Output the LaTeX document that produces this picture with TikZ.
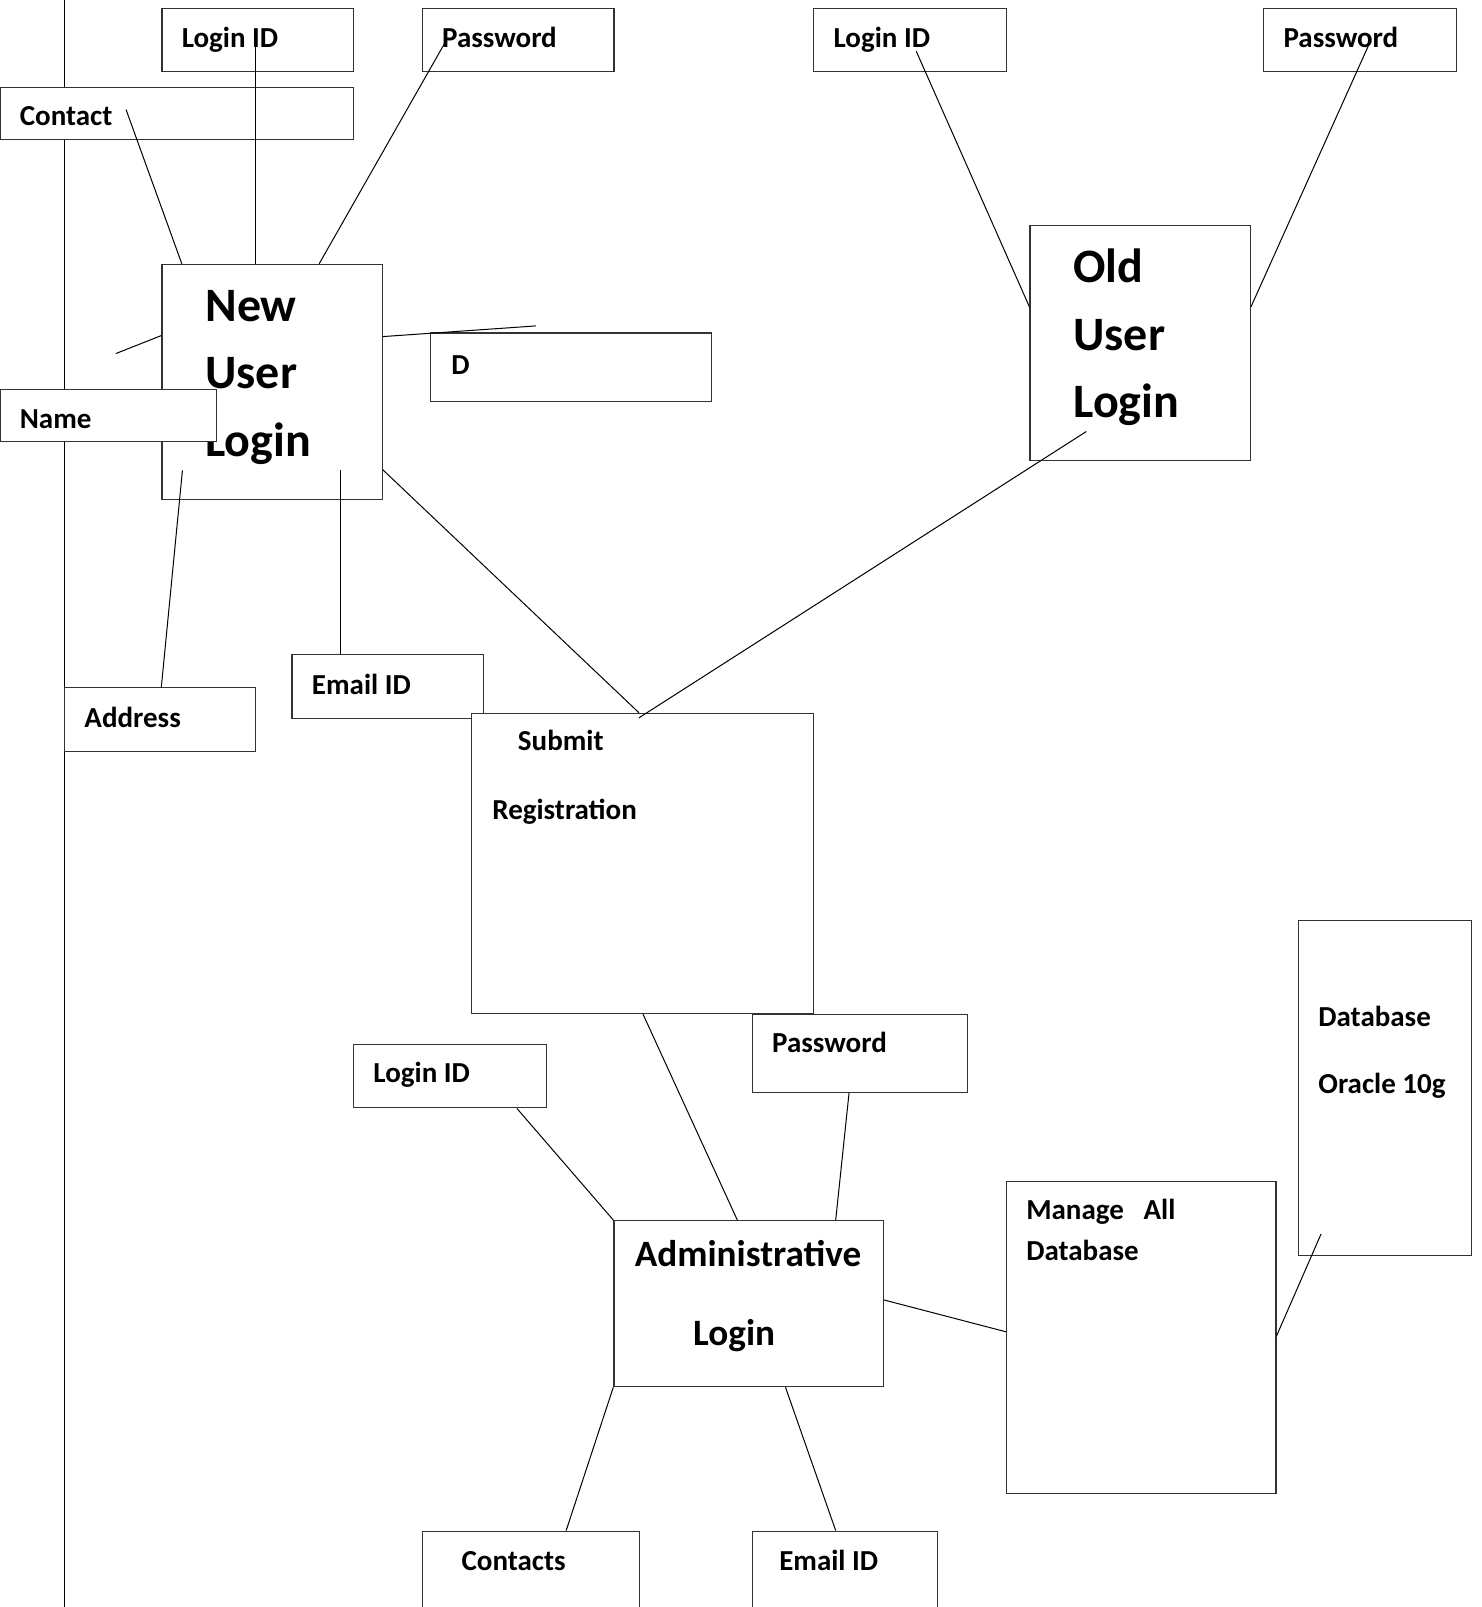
\documentclass[tikz,border=0pt]{standalone}
\usepackage{fontspec}
\setmainfont{Carlito}
\usetikzlibrary{fit,calc}
\begin{document}
\begin{tikzpicture}[x=0.5125pt,y=-0.5125pt,
 box/.style={draw=black!80, line width=0.6pt, fill=white, inner sep=0pt},
 lbl/.style={anchor=base west, inner sep=0pt, yshift=-0.7pt, font=\fontsize{14.5}{17}\selectfont\bfseries},
 big/.style={anchor=base west, inner sep=0pt, yshift=-0.7pt, font=\fontsize{24}{29}\selectfont\bfseries},
 adm/.style={anchor=base west, inner sep=0pt, yshift=-0.7pt, font=\fontsize{18.6}{22}\selectfont\bfseries},
 conn/.style={draw=black, line width=0.5pt}]
\useasboundingbox (0,0) rectangle (1446,1568);
% left vertical line
\coordinate (vt) at (63,0);
\coordinate (vb) at (63,1568);
\draw[conn, line width=0.7pt] (vt) -- (vb);

% top-left cluster
\node[box, fit={(158,8) (345,70)}] (lidA) {};
\node[lbl] (tlidA) at (177,45) {Login ID};
\node[box, fit={(412,8) (599,70)}] (pwA) {};
\node[lbl] (tpwA) at (431,45) {Password};
\node[box, fit={(0,85) (345,136)}] (contact) {};
\node[lbl] (tcontact) at (19,121) {Contact};
\node[box, fit={(158,258) (373,487)}] (newu) {};
\node[big] (tnew1) at (200,312) {New};
\node[big] (tnew2) at (200,378) {User};
\node[big] (tnew3) at (200,444) {Login};
\node[box, fit={(420,325) (694,392)}] (dbox) {};
\node[lbl] (td) at (440,364) {D};
\node[box, fit={(0,380) (211,431)}] (name) {};
\node[lbl] (tname) at (19,417) {Name};
\node[box, fit={(63,671) (249,733)}] (addr) {};
\node[lbl] (taddr) at (82,708) {Address};
\node[box, fit={(285,639) (472,701)}] (emailA) {};
\node[lbl] (temailA) at (304,676) {Email ID};
\node[box, fit={(460,696) (794,989)}] (submit) {};
\node[lbl] (tsub1) at (505,731) {Submit};
\node[lbl] (tsub2) at (480,798) {Registration};

% top-right cluster
\node[box, fit={(794,8) (982,70)}] (lidB) {};
\node[lbl] (tlidB) at (813,45) {Login ID};
\node[box, fit={(1233,8) (1421,70)}] (pwB) {};
\node[lbl] (tpwB) at (1252,45) {Password};
\node[box, fit={(1005,220) (1220,449)}] (oldu) {};
\node[big] (told1) at (1047,274) {Old};
\node[big] (told2) at (1047,341) {User};
\node[big] (told3) at (1047,406) {Login};

% bottom cluster
\node[box, fit={(734,990) (944,1066)}] (pwC) {};
\node[lbl] (tpwC) at (753,1026) {Password};
\node[box, fit={(345,1019) (533,1081)}] (lidC) {};
\node[lbl] (tlidC) at (364,1055) {Login ID};
\node[box, fit={(599,1191) (862,1353)}] (admin) {};
\node[adm] (tadm1) at (619,1234) {Administrative};
\node[adm] (tadm2) at (676,1311) {Login};
\node[box, fit={(982,1153) (1245,1457)}] (manage) {};
\node[lbl] (tman1) at (1001,1189) {Manage~~~All};
\node[lbl] (tman2) at (1001,1229) {Database};
\node[box, fit={(1267,898) (1436,1225)}] (oracle) {};
\node[lbl] (tor1) at (1286,1000) {Database};
\node[lbl] (tor2) at (1286,1066) {Oracle 10g};
\node[box, fit={(412,1494) (624,1580)}] (contacts) {};
\node[lbl] (tcontacts) at (450,1531) {Contacts};
\node[box, fit={(734,1494) (915,1580)}] (emailB) {};
\node[lbl] (temailB) at (760,1531) {Email ID};

% free connector ends
\coordinate (a1) at (249,40);
\coordinate (a2) at (434,42);
\coordinate (a3) at (123,107);
\coordinate (a4) at (113,345);
\coordinate (a5) at (523,318);
\coordinate (a6) at (178,459);
\coordinate (a7) at (332,459);
\coordinate (a9) at (1060,421);
\coordinate (a10) at (894,50);
\coordinate (a11) at (1335,45);
\coordinate (a16) at (1289,1204);

% connectors
\draw[conn] (a1) -- (a1 |- newu.north);
\draw[conn] (a2) -- ($(newu.north west)+(154,0)$);
\draw[conn] (a3) -- ($(newu.north west)+(20,0)$);
\draw[conn] (a4) -- ($(newu.north west)+(0,70)$);
\draw[conn] ($(newu.north east)+(0,71)$) -- (a5);
\draw[conn] (a6) -- ($(addr.north west)+(95,0)$);
\draw[conn] (a7) -- (a7 |- emailA.north);
\draw[conn] ($(newu.north east)+(0,201)$) -- ($(submit.north west)+(164,0)$);
\draw[conn] (a9) -- ($(submit.north west)+(164,5)$);
\draw[conn] (a10) -- ($(oldu.north west)+(0,80)$);
\draw[conn] (a11) -- ($(oldu.north east)+(0,80)$);
\draw[conn] ($(submit.south west)+(168,0)$) -- ($(admin.north west)+(121,0)$);
\draw[conn] ($(lidC.south west)+(160,0)$) -- (admin.north west);
\draw[conn] ($(pwC.south west)+(95,0)$) -- ($(admin.north west)+(217,0)$);
\draw[conn] ($(admin.north east)+(0,78)$) -- ($(manage.north west)+(0,147)$);
\draw[conn] ($(manage.north east)+(0,151)$) -- (a16);
\draw[conn] (admin.south west) -- ($(contacts.north west)+(141,0)$);
\draw[conn] ($(admin.south west)+(168,0)$) -- ($(emailB.north west)+(82,0)$);
\end{tikzpicture}
\end{document}
